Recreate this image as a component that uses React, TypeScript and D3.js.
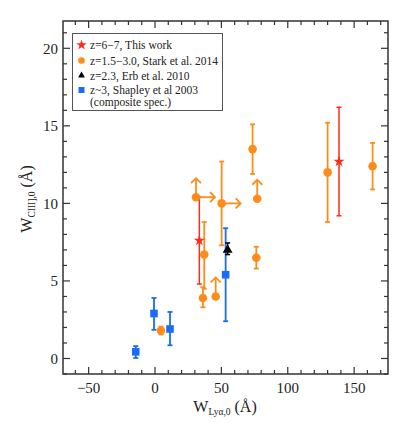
import React from "react";
import * as d3 from "d3";

// ---- data ----
const starX = [33.4, 138.6];
const starY = [7.6, 12.7];
const starLo = [2.8, 3.5];
const starHi = [2.8, 3.5];

const starkX = [30.9, 37.1, 36.1, 50.2, 73.5, 77.0, 76.3, 130.0, 163.9, 45.7, 4.5];
const starkY = [10.4, 6.7, 3.9, 10.0, 13.5, 10.3, 6.5, 12.0, 12.4, 4.0, 1.8];
const starkLo = [0, 2.2, 0.6, 2.7, 1.6, 0, 0.7, 3.2, 1.5, 0, 0.25];
const starkHi = [0, 2.1, 0.7, 2.7, 1.6, 0, 0.7, 3.2, 1.5, 0, 0.25];
const starkXLimit = [true, false, false, true, false, false, false, false, false, false, false];
const starkYLimit = [true, false, false, false, false, true, false, false, false, true, false];

const erbX = [54.7];
const erbY = [7.0];
const erbLo = [0.3];
const erbHi = [0.45];

const shapX = [-0.75, 11.3, -14.5, 53.2];
const shapY = [2.9, 1.9, 0.43, 5.4];
const shapLo = [1.05, 1.05, 0.4, 3.0];
const shapHi = [1.0, 1.1, 0.37, 3.0];

const xMajor = [-50, 0, 50, 100, 150];
const yMajor = [0, 5, 10, 15, 20];

const legendLabels = [
  "z=6\u22127, This work",
  "z=1.5\u22123.0, Stark et al. 2014",
  "z=2.3, Erb et al. 2010",
  "z~3, Shapley et al 2003",
  "(composite spec.)",
];

const RED = "#ff2a1a";
const ORANGE = "#ff8c1a";
const BLUE = "#1a6cf5";
const BLACK = "#000";
const AXIS = "#333";
const FONT = "'Liberation Serif', 'DejaVu Serif', 'Times New Roman', serif";

const L = 63, R = 388, T = 21, B = 374;

export default function App() {
  const x = d3.scaleLinear().domain([-69.3, 175.5]).range([L, R]);
  const y = d3.scaleLinear().domain([-1.0, 21.76]).range([B, T]);

  const xMinor = d3.range(-60, 175, 10).filter((v) => !xMajor.includes(v));
  const yMinor = d3.range(-1, 22, 1).filter((v) => !yMajor.includes(v));

  const errBar = (cx: number, cy: number, lo: number, hi: number, color: string, key: string, w = 1.5) => {
    if (lo === 0 && hi === 0) return null;
    const px = x(cx);
    const y1 = y(cy + hi), y2 = y(cy - lo);
    return (
      <g key={key} stroke={color} strokeWidth={w} fill="none">
        <line x1={px} x2={px} y1={y1} y2={y2} />
        <line x1={px - 2.5} x2={px + 2.5} y1={y1} y2={y1} />
        <line x1={px - 2.5} x2={px + 2.5} y1={y2} y2={y2} />
      </g>
    );
  };

  const arrowLen = 19;
  const head = 5;

  const starPath = d3.symbol(d3.symbolStar, 38)() as string;
  const triPath = d3.symbol(d3.symbolTriangle, 42)() as string;
  const ts = { fontFamily: FONT } as React.CSSProperties;

  return (
    <svg width={399} height={423} style={{ position: "absolute", left: 0, top: 0 }}>
      <rect x={0} y={0} width={399} height={423} fill="#fff" />

      {/* error bars & limits */}
      {starX.map((v, i) => errBar(v, starY[i], starLo[i], starHi[i], RED, "se" + i, 1.5))}
      {starkX.map((v, i) => errBar(v, starkY[i], starkLo[i], starkHi[i], ORANGE, "ke" + i, 1.8))}
      {starkX.map((v, i) => {
        const px = x(v), py = y(starkY[i]);
        return (
          <g key={"kl" + i} stroke={ORANGE} strokeWidth={1.8} fill="none">
            {starkYLimit[i] && (
              <>
                <line x1={px} x2={px} y1={py} y2={py - arrowLen} />
                <polyline points={`${px - head},${py - arrowLen + head} ${px},${py - arrowLen} ${px + head},${py - arrowLen + head}`} />
              </>
            )}
            {starkXLimit[i] && (
              <>
                <line x1={px} x2={px + arrowLen} y1={py} y2={py} />
                <polyline points={`${px + arrowLen - head},${py - head} ${px + arrowLen},${py} ${px + arrowLen - head},${py + head}`} />
              </>
            )}
          </g>
        );
      })}
      {shapX.map((v, i) => errBar(v, shapY[i], shapLo[i], shapHi[i], BLUE, "he" + i, 1.8))}
      {erbX.map((v, i) => errBar(v, erbY[i], erbLo[i], erbHi[i], BLACK, "ee" + i, 1.5))}

      {/* markers */}
      {starX.map((v, i) => (
        <path key={"s" + i} d={starPath} transform={`translate(${x(v)},${y(starY[i])})`} fill={RED} />
      ))}
      {starkX.map((v, i) => (
        <circle key={"k" + i} cx={x(v)} cy={y(starkY[i])} r={4.3} fill={ORANGE} />
      ))}
      {shapX.map((v, i) => (
        <rect key={"h" + i} x={x(v) - 3.8} y={y(shapY[i]) - 3.8} width={7.6} height={7.6} fill={BLUE} />
      ))}
      {erbX.map((v, i) => (
        <path key={"e" + i} d={triPath} transform={`translate(${x(v)},${y(erbY[i])})`} fill={BLACK} />
      ))}

      {/* frame */}
      <rect x={L} y={T} width={R - L} height={B - T} fill="none" stroke={AXIS} strokeWidth={1.5} />

      {/* ticks */}
      <g stroke={AXIS} strokeWidth={1.2}>
        {xMajor.map((v) => (
          <g key={"xM" + v}>
            <line x1={x(v)} x2={x(v)} y1={B} y2={B - 7} />
            <line x1={x(v)} x2={x(v)} y1={T} y2={T + 7} />
          </g>
        ))}
        {xMinor.map((v) => (
          <g key={"xm" + v}>
            <line x1={x(v)} x2={x(v)} y1={B} y2={B - 4} />
            <line x1={x(v)} x2={x(v)} y1={T} y2={T + 4} />
          </g>
        ))}
        {yMajor.map((v) => (
          <g key={"yM" + v}>
            <line x1={L} x2={L + 7} y1={y(v)} y2={y(v)} />
            <line x1={R} x2={R - 7} y1={y(v)} y2={y(v)} />
          </g>
        ))}
        {yMinor.map((v) => (
          <g key={"ym" + v}>
            <line x1={L} x2={L + 4} y1={y(v)} y2={y(v)} />
            <line x1={R} x2={R - 4} y1={y(v)} y2={y(v)} />
          </g>
        ))}
      </g>

      {/* tick labels */}
      <g fontSize={15} fill="#222">
        {xMajor.map((v) => (
          <text key={"xl" + v} x={x(v)} y={393} textAnchor="middle" style={ts}>
            {v < 0 ? "\u2212" + Math.abs(v) : String(v)}
          </text>
        ))}
        {yMajor.map((v) => (
          <text key={"yl" + v} x={58} y={y(v)} dy="0.35em" textAnchor="end" style={ts}>
            {String(v)}
          </text>
        ))}
      </g>

      {/* axis titles */}
      <text x={225} y={412} textAnchor="middle" fontSize={16} fill="#222" style={ts}>
        W<tspan fontSize={9.5} dy={3}>{"Ly\u03b1,0"}</tspan>
        <tspan dy={-3}>{" (\u00c5)"}</tspan>
      </text>
      <text transform="translate(32,199) rotate(-90)" textAnchor="middle" fontSize={16} fill="#222" style={ts}>
        W<tspan fontSize={9.5} dy={3}>{"CIII],0"}</tspan>
        <tspan dy={-3}>{" (\u00c5)"}</tspan>
      </text>

      {/* legend */}
      <rect x={72.5} y={33.5} width={150} height={77} fill="#fff" stroke="#555" strokeWidth={1} />
      <g fontSize={11.5} fill="#222">
        <path d={d3.symbol(d3.symbolStar, 34)() as string} transform="translate(81.5,45)" fill={RED} />
        <circle cx={81.5} cy={60.5} r={3.3} fill={ORANGE} />
        <path d={d3.symbol(d3.symbolTriangle, 20)() as string} transform="translate(81.5,75.5)" fill={BLACK} />
        <rect x={78.5} y={87} width={6} height={6} fill={BLUE} />
        {legendLabels.map((t, i) => (
          <text key={"lg" + i} x={90} y={[45, 60.5, 75.5, 90, 102][i]} dy="0.35em" style={ts}>
            {t}
          </text>
        ))}
      </g>
    </svg>
  );
}
